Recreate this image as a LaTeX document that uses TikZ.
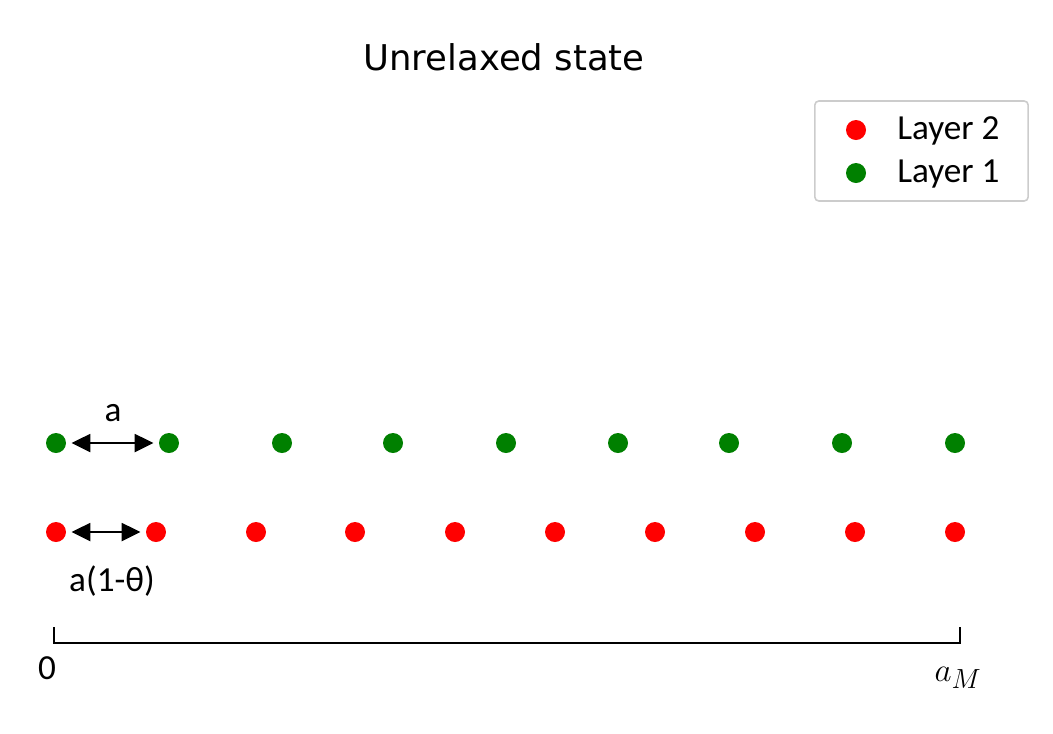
\documentclass[tikz,border=0pt]{standalone}
\usepackage{fontspec}
\setmainfont{Carlito}
\newfontfamily\titlefont{DejaVu Sans}
\usetikzlibrary{arrows.meta}
\definecolor{lgreen}{RGB}{0,128,0}
\definecolor{lred}{RGB}{255,0,0}
\definecolor{legborder}{RGB}{204,204,204}
\begin{document}
\begin{tikzpicture}[x=0.75pt,y=-0.75pt,
  gdot/.style={circle,fill=lgreen,draw=none,minimum size=15pt,inner sep=0pt},
  rdot/.style={circle,fill=lred,draw=none,minimum size=15pt,inner sep=0pt},
  dimarrow/.style={line width=1.4pt,{Triangle[length=14pt,width=13.5pt]}-{Triangle[length=14pt,width=13.5pt]},shorten <=4pt,shorten >=4pt},
  lbl/.style={font=\fontsize{26.4}{30}\selectfont,inner sep=0pt},
  bracket/.style={line width=1.5pt,line cap=butt}]
\useasboundingbox (0,0) rectangle (1053,733);
% title
\node[inner sep=0pt,font=\titlefont\fontsize{26.6}{30}\selectfont] (title) at (504,57) {Unrelaxed state};
% legend
\node[draw=legborder,line width=1.2pt,rounded corners=3pt,minimum width=160pt,minimum height=75pt,inner sep=0pt] (legend) at (921.5,151) {};
\node[rdot] (lr) at (856,130) {};
\node[gdot] (lg) at (856,173) {};
\node[lbl,anchor=west] (lrt) at (897,131) {Layer 2};
\node[lbl,anchor=west] (lgt) at (897,174) {Layer 1};
% layer 1 (green)
\foreach \i/\x in {1/56,2/169,3/282,4/393,5/506,6/618,7/729,8/842,9/955}
  \node[gdot] (g\i) at (\x,443) {};
% layer 2 (red)
\foreach \i/\x in {1/56,2/156,3/256,4/355,5/455,6/555,7/655,8/755,9/855,10/955}
  \node[rdot] (r\i) at (\x,532) {};
% arrows
\draw[dimarrow] (g1) -- (g2);
\draw[dimarrow] (r1) -- (r2);
\node[lbl] (la) at (113,413) {a};
\node[lbl] (lb) at (112,581) {a(1-θ)};
% bracket
\coordinate (b1) at (54,627);
\coordinate (b2) at (54,643);
\coordinate (b3) at (960,643);
\coordinate (b4) at (960,627);
\draw[bracket] (b1) -- (b2) -- (b3) -- (b4);
\node[lbl] (zero) at (47,668) {0};
\node[inner sep=0pt,font=\fontsize{28.6}{32}\selectfont] (am) at (958,678) {$a_M$};
\end{tikzpicture}
\end{document}
